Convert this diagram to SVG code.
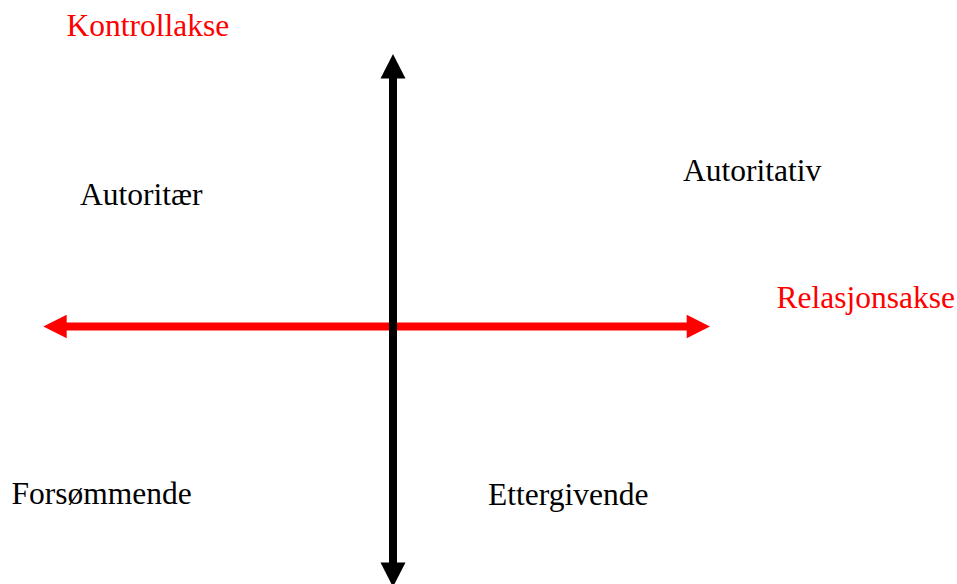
<svg xmlns="http://www.w3.org/2000/svg" width="957" height="584" viewBox="0 0 957 584">
  <style>
    .lbl { font-family: "Liberation Serif", "Times New Roman", serif; font-size: 31.5px; fill: #000; }
    .axis-lbl { fill: #ff0000; }
  </style>
  <rect width="957" height="584" fill="#ffffff"/>

  <!-- Axes -->
  <g id="connectors">
    <!-- Relation axis (horizontal, two-headed) -->
    <g id="relasjonsakse-axis" fill="#ff0000">
      <rect x="66" y="322.5" width="621" height="8"/>
      <polygon points="43.3,326.5 66.7,314.8 66.7,338.2"/>
      <polygon points="710,326.5 686.7,314.8 686.7,338.2"/>
    </g>
    <!-- Control axis (vertical, two-headed) -->
    <g id="kontrollakse-axis" fill="#000000">
      <rect x="389" y="77" width="8" height="487"/>
      <polygon points="393,54 380.5,78.5 405.5,78.5"/>
      <polygon points="393,587 380.5,562.5 405.5,562.5"/>
    </g>
  </g>

  <g id="label-kontrollakse"><text class="lbl axis-lbl" x="66.5" y="36">Kontrollakse</text></g>
  <g id="label-relasjonsakse"><text class="lbl axis-lbl" x="776.5" y="307.5">Relasjonsakse</text></g>

  <g id="node-autoritaer"><text class="lbl" x="80" y="204.5">Autoritær</text></g>
  <g id="node-autoritativ"><text class="lbl" x="683" y="180.5">Autoritativ</text></g>
  <g id="node-forsommende"><text class="lbl" x="11.5" y="503.5">Forsømmende</text></g>
  <g id="node-ettergivende"><text class="lbl" x="488" y="505">Ettergivende</text></g>
</svg>
